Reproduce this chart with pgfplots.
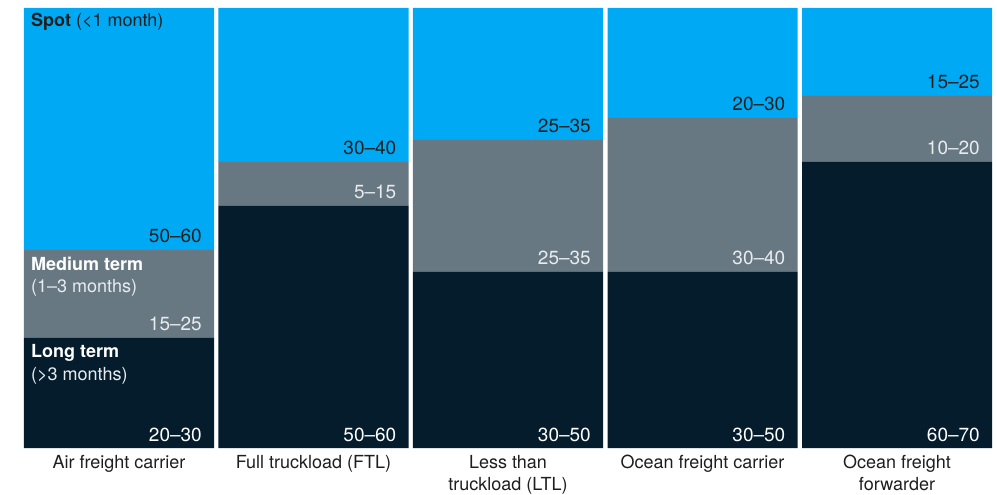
\documentclass[border=0pt]{standalone}
\usepackage{pgfplots}
\pgfplotsset{compat=1.18}
\usepackage{fontspec}
\setmainfont{TeX Gyre Heros}
\definecolor{spot}{RGB}{0,169,244}
\definecolor{med}{RGB}{104,120,130}
\definecolor{longc}{RGB}{5,28,44}
\definecolor{txt}{RGB}{30,30,30}
\definecolor{lighttxt}{RGB}{232,236,239}
\newcommand\lbl{\fontsize{18bp}{22bp}\selectfont}
\newcommand\vlf{\fontsize{19bp}{22bp}\selectfont}
\begin{document}
\begin{tikzpicture}[
 vl/.style={anchor=base east, inner sep=0pt, font=\vlf, xshift=-12bp, yshift=7bp},
 sl/.style={anchor=base west, inner sep=0pt, font=\lbl, xshift=7bp}]
\begin{axis}[
 width=968bp, height=440bp, scale only axis,
 ybar stacked, bar width=0.9769,
 xmin=-0.4884, xmax=4.4884, ymin=0, ymax=100,
 axis line style={draw=none}, major tick style={draw=none},
 ytick=\empty, xtick={0,1,2,3,4},
 xticklabels={Air freight carrier,Full truckload (FTL),{Less than\\truckload (LTL)},Ocean freight carrier,{Ocean freight\\forwarder}},
 xticklabel style={align=center, font=\lbl, text=txt, yshift=-4bp},
 clip=false,
]
\addplot[fill=longc, draw=none] coordinates {(0,25) (1,55) (2,40) (3,40) (4,65)};
\addplot[fill=med, draw=none] coordinates {(0,20) (1,10) (2,30) (3,35) (4,15)};
\addplot[fill=spot, draw=none] coordinates {(0,55) (1,35) (2,30) (3,25) (4,20)};
\coordinate (a1) at (axis cs:0.4884,45);
\coordinate (a2) at (axis cs:0.4884,25);
\coordinate (a3) at (axis cs:0.4884,0);
\coordinate (b1) at (axis cs:1.4884,65);
\coordinate (b2) at (axis cs:1.4884,55);
\coordinate (b3) at (axis cs:1.4884,0);
\coordinate (c1) at (axis cs:2.4884,70);
\coordinate (c2) at (axis cs:2.4884,40);
\coordinate (c3) at (axis cs:2.4884,0);
\coordinate (d1) at (axis cs:3.4884,75);
\coordinate (d2) at (axis cs:3.4884,40);
\coordinate (d3) at (axis cs:3.4884,0);
\coordinate (e1) at (axis cs:4.4884,80);
\coordinate (e2) at (axis cs:4.4884,65);
\coordinate (e3) at (axis cs:4.4884,0);
\coordinate (s1) at (axis cs:-0.4884,100);
\coordinate (s2) at (axis cs:-0.4884,45);
\coordinate (s3) at (axis cs:-0.4884,25);
\coordinate (bl) at (rel axis cs:0,0);
\coordinate (tr) at (rel axis cs:1,1);
\end{axis}
\node[vl, text=txt] at (a1) {50--60};
\node[vl, text=lighttxt] at (a2) {15--25};
\node[vl, text=white] at (a3) {20--30};
\node[vl, text=txt] at (b1) {30--40};
\node[vl, text=lighttxt] at (b2) {5--15};
\node[vl, text=white] at (b3) {50--60};
\node[vl, text=txt] at (c1) {25--35};
\node[vl, text=lighttxt] at (c2) {25--35};
\node[vl, text=white] at (c3) {30--50};
\node[vl, text=txt] at (d1) {20--30};
\node[vl, text=lighttxt] at (d2) {30--40};
\node[vl, text=white] at (d3) {30--50};
\node[vl, text=txt] at (e1) {15--25};
\node[vl, text=lighttxt] at (e2) {10--20};
\node[vl, text=white] at (e3) {60--70};
\node[sl, text=txt, yshift=-19bp] at (s1) {\textbf{Spot} (\textless1 month)};
\node[sl, text=white, yshift=-21bp] at (s2) {\textbf{Medium term}};
\node[sl, text=lighttxt, yshift=-43bp] at (s2) {(1--3 months)};
\node[sl, text=white, yshift=-20bp] at (s3) {\textbf{Long term}};
\node[sl, text=lighttxt, yshift=-43bp] at (s3) {(\textgreater3 months)};
\pgfresetboundingbox
\path (bl) ++(-24bp,-47bp) coordinate (BL);
\path (tr) ++(5bp,8bp) coordinate (TR);
\path (BL) rectangle (TR);
\end{tikzpicture}
\end{document}
